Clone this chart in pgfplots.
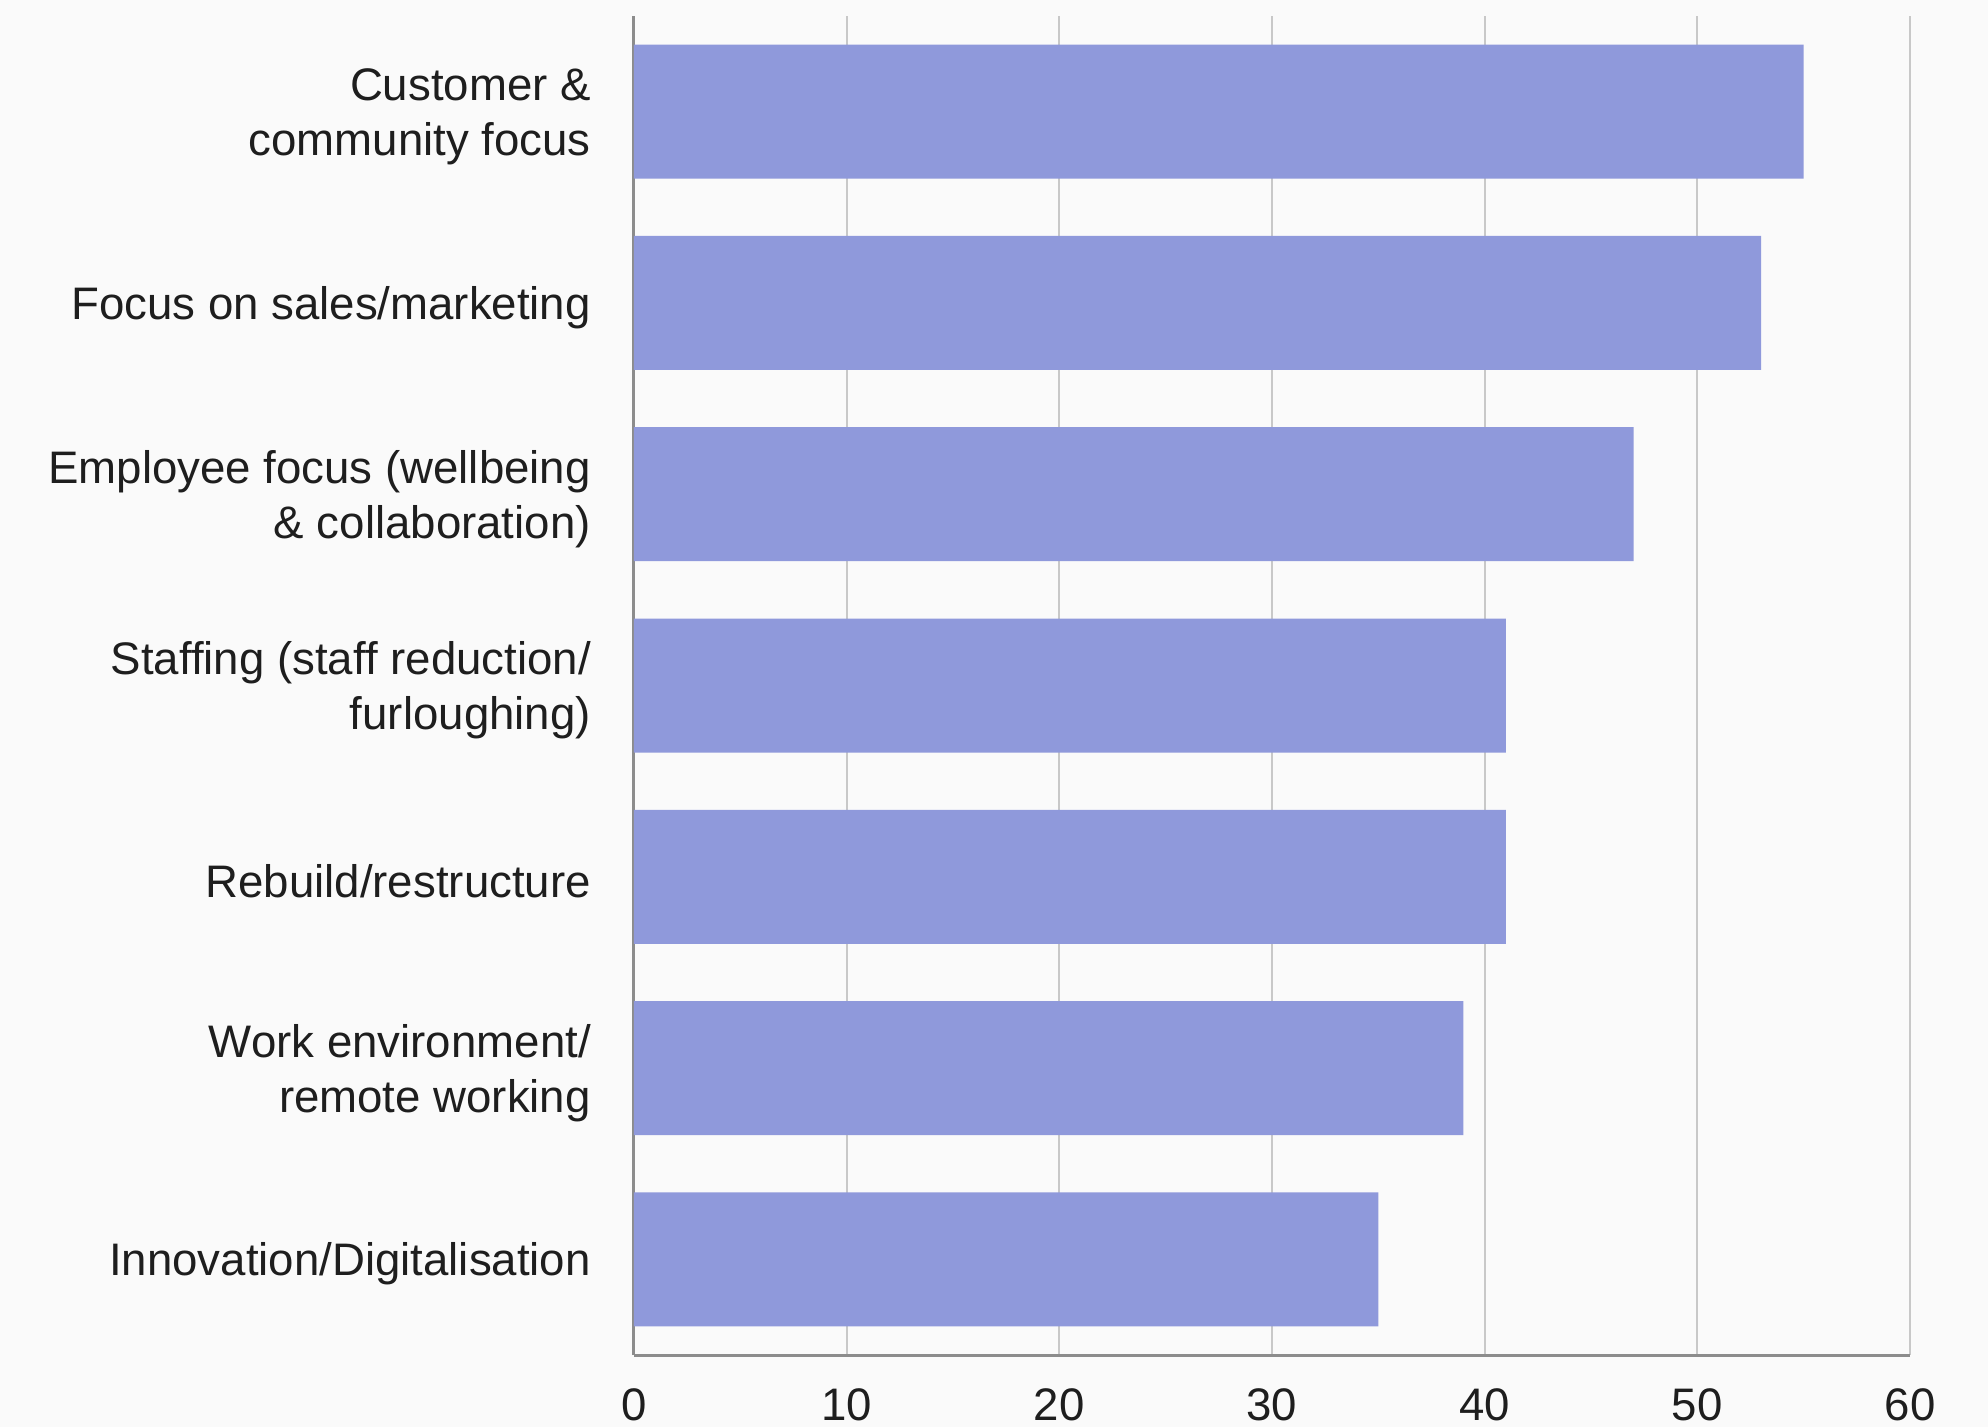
\documentclass[border=0pt]{standalone}
\usepackage{pgfplots}
\pgfplotsset{compat=1.18}
\usepackage{fontspec}
\setmainfont{Liberation Sans}
\definecolor{bgc}{RGB}{250,250,250}
\definecolor{barc}{RGB}{143,153,219}
\definecolor{gridc}{RGB}{200,200,200}
\definecolor{axc}{RGB}{140,140,140}
\definecolor{txt}{RGB}{30,30,30}
\begin{document}
\begin{tikzpicture}
\fill[bgc] (-158.5pt,-18pt) rectangle (338.5pt,338.75pt);
\useasboundingbox (-158.5pt,-18pt) rectangle (338.5pt,338.75pt);
\begin{axis}[
  at={(0,0)}, anchor=south west,
  scale only axis, width=319pt, height=334.75pt,
  xbar, bar width=33.5pt,
  xmin=0, xmax=60, ymin=-0.5, ymax=6.5,
  xtick={0,10,...,60},
  ytick={0,...,6},
  yticklabels={Innovation/Digitalisation, Work environment/\\remote working, Rebuild/restructure, Staffing (staff reduction/\\furloughing), Employee focus (wellbeing\\\& collaboration), Focus on sales/marketing, Customer \&\\community focus},
  axis x line*=bottom, axis y line*=left,
  x axis line style={draw=axc, line width=0.75pt},
  y axis line style={draw=axc, line width=0.75pt},
  xmajorgrids, major grid style={draw=gridc, line width=0.5pt},
  major tick length=0pt,
  tick style={draw=none},
  /pgf/number format/assume math mode=true,
  tick label style={font=\fontsize{11.4}{13.75}\selectfont, text=txt},
  y tick label style={align=right, inner sep=0pt, xshift=-10.6pt, yshift=-1.2pt},
  x tick label style={inner sep=0pt, anchor=north, yshift=-8.2pt},
  separate axis lines,
  axis line style={-},
  clip=false,
]
\addplot[fill=barc, draw=none] coordinates {
(35,0) (39,1) (41,2) (41,3) (47,4) (53,5) (55,6)};
\end{axis}
\end{tikzpicture}
\end{document}
